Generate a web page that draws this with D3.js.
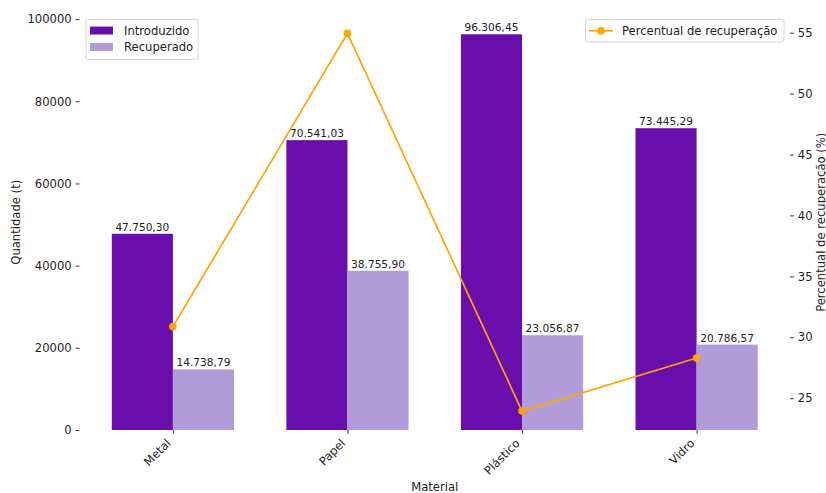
<!DOCTYPE html>
<html><head><meta charset="utf-8">
<script src="https://cdn.jsdelivr.net/npm/d3@7"></script>
<style>body{margin:0;background:#fff}text{font-family:"DejaVu Sans",sans-serif;fill:#222}</style>
</head><body><svg id="c" width="826" height="493"></svg>
<script>
const categories = ["Metal", "Papel", "Plástico", "Vidro"];
const introduzido = [47750.30, 70541.03, 96306.45, 73445.29];
const recuperado = [14738.79, 38755.90, 23056.87, 20786.57];
const percentual = [30.87, 54.94, 23.94, 28.30];
const leftTicks = [0, 20000, 40000, 60000, 80000, 100000];
const rightTicks = [25, 30, 35, 40, 45, 50, 55];

const svg = d3.select("#c");
const L = 79.5, R = 790, T = 14.5, B = 430;
const fs = 11.6, fsb = 10.6;
const bw = 0.35;
const x = d3.scaleLinear().domain([-0.535, 3.535]).range([L, R]);
const yL = d3.scaleLinear().domain([0, d3.max(introduzido) * 1.05]).range([B, T]);
const pmin = d3.min(percentual), pmax = d3.max(percentual), pm = (pmax - pmin) * 0.05;
const yR = d3.scaleLinear().domain([pmin - pm, pmax + pm]).range([B, T]);
const fmt = v => v.toLocaleString("de-DE", {minimumFractionDigits: 2, maximumFractionDigits: 2});

const c1 = "#6a0dad", c2 = "#b19cd9", c3 = "#ffa500";

// bars
const g = svg.append("g");
categories.forEach((cat, i) => {
  g.append("rect").attr("x", x(i - bw)).attr("width", x(bw) - x(0)).attr("y", yL(introduzido[i])).attr("height", B - yL(introduzido[i])).attr("fill", c1);
  g.append("rect").attr("x", x(i)).attr("width", x(bw) - x(0)).attr("y", yL(recuperado[i])).attr("height", B - yL(recuperado[i])).attr("fill", c2);
  g.append("text").attr("x", x(i - bw / 2)).attr("y", yL(introduzido[i]) - 3).attr("text-anchor", "middle").attr("font-size", fsb).text(fmt(introduzido[i]));
  g.append("text").attr("x", x(i + bw / 2)).attr("y", yL(recuperado[i]) - 3).attr("text-anchor", "middle").attr("font-size", fsb).text(fmt(recuperado[i]));
});

// left axis
const axL = d3.axisLeft(yL).tickValues(leftTicks).tickSize(3.9).tickPadding(3.9).tickFormat(d3.format("d"));
const gL = svg.append("g").attr("transform", `translate(${L},0)`).call(axL);
gL.select(".domain").remove();
gL.selectAll("text").attr("font-size", fs).attr("fill", "#222");
gL.selectAll("line").attr("stroke", "#222").attr("stroke-width", 0.9);

// bottom axis
const axB = d3.axisBottom(x).tickValues(d3.range(categories.length)).tickSize(3.9).tickFormat(i => categories[i]);
const gB = svg.append("g").attr("transform", `translate(0,${B})`).call(axB);
gB.select(".domain").remove();
gB.selectAll("line").attr("stroke", "#222").attr("stroke-width", 0.9);
gB.selectAll("text").attr("font-size", fs).attr("fill", "#222")
  .attr("text-anchor", "end").attr("y", 0).attr("dy", 0)
  .attr("transform", `translate(${-0.707 * 2.7},${7.8 + 0.707 * 8.8}) rotate(-45)`);

// line
const line = d3.line().x((d, i) => x(i)).y(d => yR(d));
svg.append("path").datum(percentual).attr("d", line).attr("fill", "none").attr("stroke", c3).attr("stroke-width", 1.7);
svg.selectAll(".pt").data(percentual).enter().append("circle").attr("cx", (d, i) => x(i)).attr("cy", d => yR(d)).attr("r", 3.8).attr("fill", c3);

// right axis
const axR = d3.axisRight(yR).tickValues(rightTicks).tickSize(3.9).tickPadding(3.9);
const gR = svg.append("g").attr("transform", `translate(${R},0)`).call(axR);
gR.select(".domain").remove();
gR.selectAll("text").attr("font-size", fs).attr("fill", "#222");
gR.selectAll("line").attr("stroke", "#222").attr("stroke-width", 0.9);

// axis labels
svg.append("text").attr("x", (L + R) / 2).attr("y", 491).attr("text-anchor", "middle").attr("font-size", fs).text("Material");
svg.append("text").attr("transform", `translate(20,${(T + B) / 2}) rotate(-90)`).attr("text-anchor", "middle").attr("font-size", fs).text("Quantidade (t)");
svg.append("text").attr("transform", `translate(824.5,${(T + B) / 2}) rotate(-90)`).attr("text-anchor", "middle").attr("font-size", fs).text("Percentual de recuperação (%)");

// legend left
const lg = svg.append("g");
lg.append("rect").attr("x", 86).attr("y", 19.5).attr("width", 112).attr("height", 40).attr("rx", 2).attr("fill", "#fff").attr("fill-opacity", 0.8).attr("stroke", "#d6d6d6");
[["Introduzido", c1], ["Recuperado", c2]].forEach((d, k) => {
  const cy = 30.5 + k * 16.5;
  lg.append("rect").attr("x", 90).attr("y", cy - 3.9).attr("width", 23).attr("height", 7.9).attr("fill", d[1]);
  lg.append("text").attr("x", 124).attr("y", cy + 4.2).attr("font-size", fs).text(d[0]);
});
// legend right
const rg = svg.append("g");
rg.append("rect").attr("x", 585.5).attr("y", 19.5).attr("width", 198.5).attr("height", 22.5).attr("rx", 2).attr("fill", "#fff").attr("fill-opacity", 0.8).attr("stroke", "#d6d6d6");
rg.append("line").attr("x1", 589).attr("x2", 613).attr("y1", 30.8).attr("y2", 30.8).attr("stroke", c3).attr("stroke-width", 1.7);
rg.append("circle").attr("cx", 601).attr("cy", 30.8).attr("r", 3.8).attr("fill", c3);
rg.append("text").attr("x", 622).attr("y", 35).attr("font-size", fs).text("Percentual de recuperação");
</script></body></html>
